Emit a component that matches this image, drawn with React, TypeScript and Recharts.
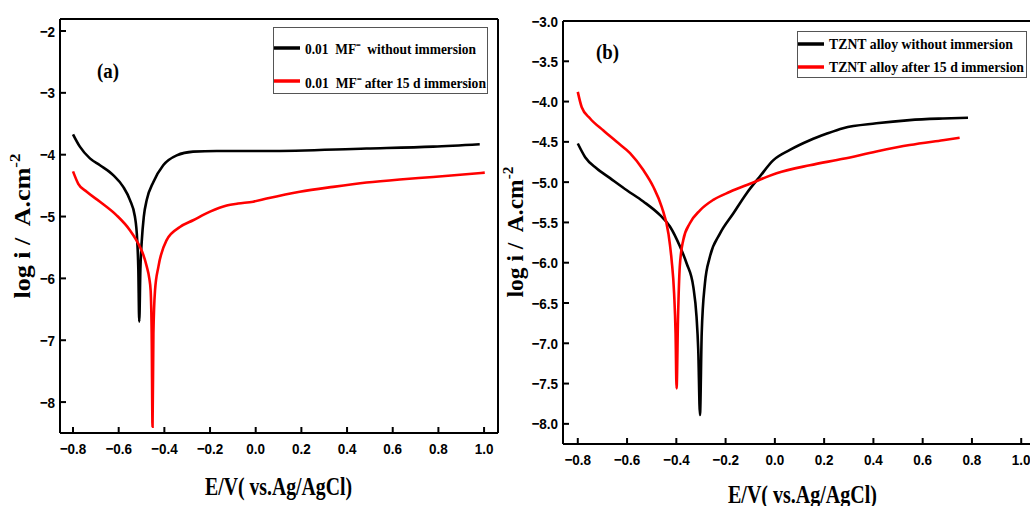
import React from "react";
import { LineChart, Line, XAxis, YAxis, Legend } from "recharts";

// ---------- Panel (a) data ----------
const aNoImmE = [-0.8, -0.77, -0.726, -0.682, -0.624, -0.58, -0.551, -0.529, -0.519, -0.514, -0.51, -0.505, -0.499, -0.49, -0.477, -0.448, -0.405, -0.346, -0.274, -0.171, 0.048, 0.485, 0.777, 0.981];
const aNoImmLogI = [-3.67, -3.87, -4.06, -4.17, -4.33, -4.52, -4.73, -5.0, -5.38, -5.85, -6.7, -5.85, -5.4, -5.0, -4.73, -4.44, -4.17, -4.01, -3.95, -3.94, -3.94, -3.9, -3.87, -3.83];

const aImmE = [-0.8, -0.777, -0.74, -0.682, -0.609, -0.551, -0.507, -0.492, -0.477, -0.466, -0.46, -0.4555, -0.4518, -0.448, -0.441, -0.426, -0.39, -0.332, -0.274, -0.2, -0.127, -0.077, -0.011, 0.048, 0.193, 0.339, 0.485, 0.631, 0.777, 1.003];
const aImmLogI = [-4.27, -4.47, -4.6, -4.76, -4.98, -5.22, -5.49, -5.62, -5.81, -6.0, -6.2, -6.9, -8.4, -6.9, -6.2, -5.81, -5.38, -5.17, -5.06, -4.92, -4.82, -4.79, -4.76, -4.71, -4.6, -4.52, -4.45, -4.4, -4.36, -4.29];

// ---------- Panel (b) data ----------
const bNoImmE = [-0.8, -0.77, -0.723, -0.669, -0.601, -0.534, -0.466, -0.426, -0.385, -0.358, -0.331, -0.318, -0.311, -0.304, -0.297, -0.284, -0.264, -0.223, -0.169, -0.115, -0.061, -0.007, 0.061, 0.142, 0.209, 0.277, 0.412, 0.547, 0.682, 0.784];
const bNoImmLogI = [-4.52, -4.69, -4.83, -4.95, -5.1, -5.24, -5.41, -5.55, -5.8, -6.01, -6.3, -6.67, -7.08, -7.89, -6.88, -6.26, -5.93, -5.64, -5.39, -5.14, -4.93, -4.73, -4.6, -4.48, -4.4, -4.33, -4.27, -4.23, -4.21, -4.2];

const bImmE = [-0.8, -0.784, -0.75, -0.696, -0.642, -0.588, -0.534, -0.493, -0.459, -0.432, -0.419, -0.409, -0.403, -0.399, -0.393, -0.386, -0.372, -0.345, -0.304, -0.25, -0.182, -0.101, 0.007, 0.142, 0.277, 0.412, 0.547, 0.682, 0.75];
const bImmLogI = [-3.88, -4.07, -4.21, -4.36, -4.5, -4.64, -4.85, -5.06, -5.31, -5.64, -5.97, -6.38, -6.88, -7.56, -6.67, -6.05, -5.72, -5.51, -5.35, -5.22, -5.12, -5.02, -4.89, -4.79, -4.71, -4.62, -4.54, -4.48, -4.45];

// ---------- ticks & labels ----------
const xTicks = [-0.8, -0.6, -0.4, -0.2, 0, 0.2, 0.4, 0.6, 0.8, 1.0];
const yTicksA = [-8, -7, -6, -5, -4, -3, -2];
const yTicksB = [-8, -7.5, -7, -6.5, -6, -5.5, -5, -4.5, -4, -3.5, -3];
const namesA = ["0.01  MF\u207B  without immersion", "0.01  MF\u207B after 15 d immersion"];
const namesB = ["TZNT alloy without immersion", "TZNT alloy after 15 d immersion"];
const xTitle = "E/V( vs.Ag/AgCl)";
const yTitle = "log i /  A.cm";

const toPts = (e: number[], v: number[]) => e.map((x, i) => ({ x, y: v[i] }));

const fmt = (d: number) => (v: number) => {
  const s = Math.abs(v).toFixed(d);
  return v < -1e-9 ? "\u2212" + s : s;
};

const SANS = "'Liberation Sans', Arial, sans-serif";
const SERIF = "'Liberation Serif', 'Times New Roman', serif";

const XTick = (props: any) => {
  const { x, y, payload } = props;
  return (
    <text transform={`translate(${x},${y}) scale(0.87,1)`} textAnchor="middle" dy="0.71em" fontFamily={SANS} fontWeight="bold" fontSize={15.5} fill="#000">
      {fmt(1)(payload.value)}
    </text>
  );
};

const makeYTick = (d: number) => (props: any) => {
  const { x, y, payload } = props;
  return (
    <text transform={`translate(${x},${y}) scale(0.87,1)`} textAnchor="end" dy="0.36em" fontFamily={SANS} fontWeight="bold" fontSize={15.5} fill="#000">
      {fmt(d)(payload.value)}
    </text>
  );
};

const makeLegend = (names: string[], w: number, h: number, rows: number[], bases: number[], lens: number[], fs: number) => (props: any) => {
  const payload = props.payload || [];
  const ordered = names.map((n) => payload.find((p: any) => p.value === n)).filter(Boolean);
  return (
    <svg width={w} height={h} style={{ display: "block", overflow: "visible" }}>
      <rect x={0.5} y={0.5} width={w - 1} height={h - 1} fill="#fff" stroke="#555" strokeWidth={1} />
      {ordered.map((p: any, i: number) => (
        <g key={i}>
          <line x1={1} x2={27} y1={rows[i]} y2={rows[i]} stroke={p.color} strokeWidth={3.5} />
          <text x={32} y={bases[i]} fontFamily={SERIF} fontWeight="bold" fontSize={fs} fill="#000" textLength={lens[i]} lengthAdjust="spacingAndGlyphs" style={{ whiteSpace: "pre" }}>
            {String(p.value)}
          </text>
        </g>
      ))}
    </svg>
  );
};

const axisStroke = { stroke: "#000", strokeWidth: 2 };

export default function App() {
  return (
    <div style={{ position: "fixed", left: 0, top: 0, width: 1030, height: 506, overflow: "hidden", background: "#fff" }}>
      {/* Panel (a) */}
      <div style={{ position: "absolute", left: 0, top: 0 }}>
        <LineChart width={520} height={506} margin={{ top: 18, right: 21, bottom: 72, left: 59 }}>
          <XAxis type="number" dataKey="x" domain={[-0.857, 1.061]} allowDataOverflow ticks={xTicks} height={1}
            axisLine={axisStroke} tickLine={axisStroke} tickSize={-6} tickMargin={16} tick={XTick} interval={0} />
          <XAxis xAxisId="top" orientation="top" type="number" dataKey="x" domain={[-0.857, 1.061]} allowDataOverflow height={1}
            axisLine={axisStroke} tick={false} tickLine={false} />
          <YAxis type="number" domain={[-8.5, -1.806]} allowDataOverflow ticks={yTicksA} width={1}
            axisLine={axisStroke} tickLine={axisStroke} tickSize={-6} tickMargin={11} tick={makeYTick(0)} interval={0} />
          <YAxis yAxisId="right" orientation="right" type="number" domain={[-8.5, -1.806]} allowDataOverflow width={1}
            axisLine={axisStroke} tick={false} tickLine={false} />
          <Line data={toPts(aNoImmE, aNoImmLogI)} dataKey="y" name={namesA[0]} type="monotoneX" stroke="#000000" strokeWidth={2.6} dot={false} activeDot={false} isAnimationActive={false} />
          <Line data={toPts(aImmE, aImmLogI)} dataKey="y" name={namesA[1]} type="monotoneX" stroke="#ff0000" strokeWidth={2.6} dot={false} activeDot={false} isAnimationActive={false} />
          <Legend layout="vertical" align="center" verticalAlign="middle"
            wrapperStyle={{ position: "absolute", left: 273, top: 27, width: 215, height: 67 }}
            content={makeLegend(namesA, 215, 67, [21, 54], [26.5, 61], [171, 181], 15)} />
        </LineChart>
      </div>

      {/* Panel (b) */}
      <div style={{ position: "absolute", left: 480, top: 0 }}>
        <LineChart width={560} height={506} margin={{ top: 20, right: 4, bottom: 61, left: 82 }}>
          <XAxis type="number" dataKey="x" domain={[-0.86, 1.06]} allowDataOverflow ticks={xTicks} height={1}
            axisLine={axisStroke} tickLine={axisStroke} tickSize={-6} tickMargin={16} tick={XTick} interval={0} />
          <XAxis xAxisId="top" orientation="top" type="number" dataKey="x" domain={[-0.86, 1.06]} allowDataOverflow height={1}
            axisLine={axisStroke} tick={false} tickLine={false} />
          <YAxis type="number" domain={[-8.25, -3.0]} allowDataOverflow ticks={yTicksB} width={1}
            axisLine={axisStroke} tickLine={axisStroke} tickSize={-6} tickMargin={11} tick={makeYTick(1)} interval={0} />
          <Line data={toPts(bNoImmE, bNoImmLogI)} dataKey="y" name={namesB[0]} type="monotoneX" stroke="#000000" strokeWidth={2.6} dot={false} activeDot={false} isAnimationActive={false} />
          <Line data={toPts(bImmE, bImmLogI)} dataKey="y" name={namesB[1]} type="monotoneX" stroke="#ff0000" strokeWidth={2.6} dot={false} activeDot={false} isAnimationActive={false} />
          <Legend layout="vertical" align="center" verticalAlign="middle"
            wrapperStyle={{ position: "absolute", left: 317, top: 31, width: 230, height: 47 }}
            content={makeLegend(namesB, 230, 47, [13, 36], [17.5, 41], [184, 195], 15)} />
        </LineChart>
      </div>

      {/* Titles and panel tags */}
      <svg width={1030} height={506} style={{ position: "absolute", left: 0, top: 0, pointerEvents: "none" }}>
        <text x={278.5} y={495} textAnchor="middle" fontFamily={SERIF} fontWeight="bold" fontSize={26} textLength={147} lengthAdjust="spacingAndGlyphs" fill="#000">{xTitle}</text>
        <text x={802.5} y={503} textAnchor="middle" fontFamily={SERIF} fontWeight="bold" fontSize={26} textLength={149} lengthAdjust="spacingAndGlyphs" fill="#000">{xTitle}</text>
        <text transform="translate(30,226) rotate(-90)" textAnchor="middle" fontFamily={SERIF} fontWeight="bold" fontSize={23} textLength={145} lengthAdjust="spacingAndGlyphs" fill="#000" style={{ whiteSpace: "pre" }}>
          {yTitle}<tspan dy={-10} fontSize={15}>-2</tspan>
        </text>
        <text transform="translate(523,232) rotate(-90)" textAnchor="middle" fontFamily={SERIF} fontWeight="bold" fontSize={23} textLength={131} lengthAdjust="spacingAndGlyphs" fill="#000" style={{ whiteSpace: "pre" }}>
          {yTitle}<tspan dy={-10} fontSize={15}>-2</tspan>
        </text>
        <text x={108} y={78} textAnchor="middle" fontFamily={SERIF} fontWeight="bold" fontSize={20} textLength={22} lengthAdjust="spacingAndGlyphs" fill="#000">(a)</text>
        <text x={607.5} y={59} textAnchor="middle" fontFamily={SERIF} fontWeight="bold" fontSize={20} textLength={23} lengthAdjust="spacingAndGlyphs" fill="#000">(b)</text>
      </svg>
    </div>
  );
}
